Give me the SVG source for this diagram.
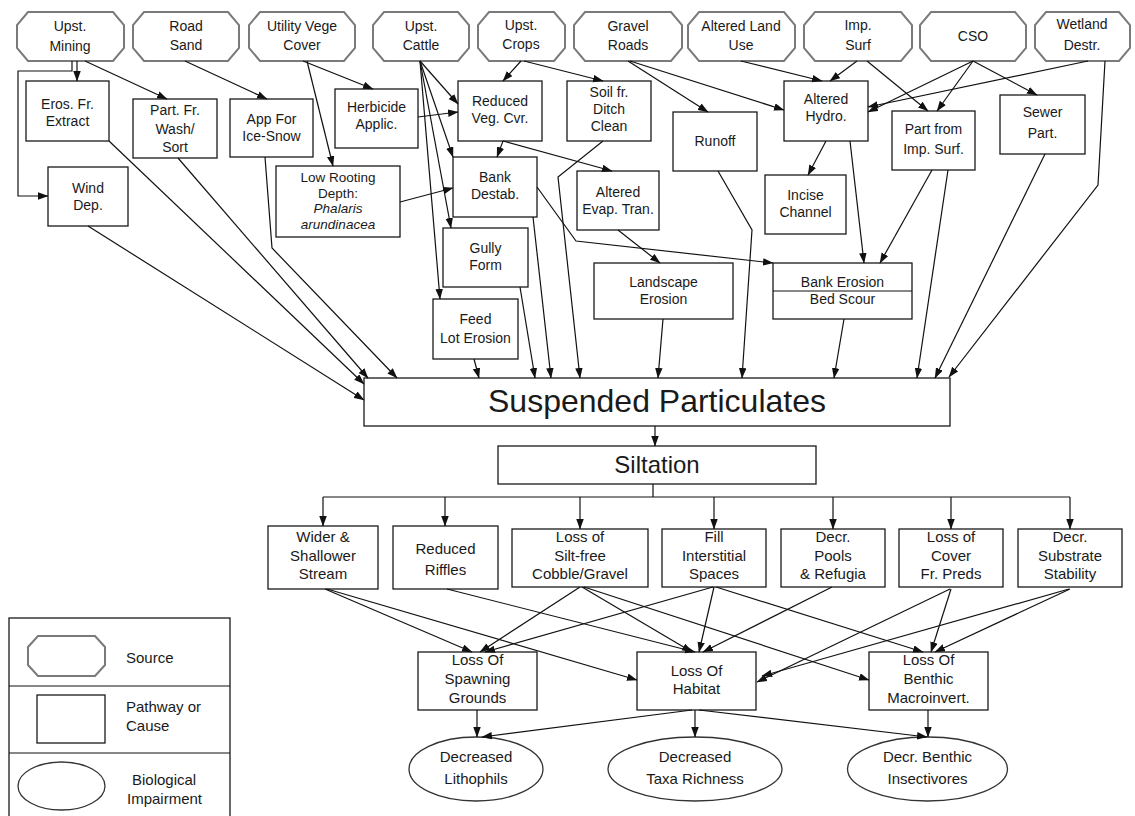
<svg xmlns="http://www.w3.org/2000/svg" width="1135" height="816" viewBox="0 0 1135 816">
<defs>
<marker id="ah" markerWidth="11" markerHeight="8" refX="10" refY="3.75" orient="auto" markerUnits="userSpaceOnUse">
<path d="M0,0 L10.5,3.75 L0,7.5 z" fill="#111"/>
</marker>
<style>
.src{fill:#fff;stroke:#7a7a7a;stroke-width:2}
.box{fill:#fff;stroke:#1a1a1a;stroke-width:1.3}
.ell{fill:#fff;stroke:#333;stroke-width:1.3}
.t{font-family:"Liberation Sans",Arial,sans-serif;font-size:14px;fill:#1a1a1a;text-anchor:middle}
.t15{font-size:15px}
.tlr{font-size:13.5px}
.it{font-style:italic}
.lg{font-family:"Liberation Sans",Arial,sans-serif;font-size:15px;fill:#1a1a1a}
.c{fill:none;stroke:#111;stroke-width:1.2;marker-end:url(#ah)}
.cn{fill:none;stroke:#111;stroke-width:1.2}
</style>
</defs>
<rect width="1135" height="816" fill="#fff"/>

<!-- Sources -->
<g id="src-mining"><polygon class="src" points="28,12 113,12 124,25 124,48 113,61 28,61 17,48 17,25"/><text class="t" x="70" y="31">Upst.</text><text class="t" x="70" y="51">Mining</text></g>
<g id="src-roadsand"><polygon class="src" points="144,12 228,12 239,25 239,48 228,61 144,61 133,48 133,25"/><text class="t" x="186" y="31">Road</text><text class="t" x="186" y="50">Sand</text></g>
<g id="src-utility"><polygon class="src" points="260,12 344,12 355,25 355,48 344,61 260,61 249,48 249,25"/><text class="t" x="302" y="31">Utility Vege</text><text class="t" x="302" y="50">Cover</text></g>
<g id="src-cattle"><polygon class="src" points="384,12 458,12 469,25 469,48 458,61 384,61 373,48 373,25"/><text class="t" x="421" y="31">Upst.</text><text class="t" x="421" y="50">Cattle</text></g>
<g id="src-crops"><polygon class="src" points="489,12 554,12 565,25 565,48 554,61 489,61 478,48 478,25"/><text class="t" x="521" y="30">Upst.</text><text class="t" x="521" y="49">Crops</text></g>
<g id="src-gravel"><polygon class="src" points="585,12 671,12 682,25 682,48 671,61 585,61 574,48 574,25"/><text class="t" x="628" y="31">Gravel</text><text class="t" x="628" y="50">Roads</text></g>
<g id="src-landuse"><polygon class="src" points="699,12 784,12 795,25 795,48 784,61 699,61 688,48 688,25"/><text class="t" x="741" y="31">Altered Land</text><text class="t" x="741" y="50">Use</text></g>
<g id="src-impsurf"><polygon class="src" points="815,12 901,12 912,25 912,48 901,61 815,61 804,48 804,25"/><text class="t" x="858" y="30">Imp.</text><text class="t" x="858" y="50">Surf</text></g>
<g id="src-cso"><polygon class="src" points="931,12 1015,12 1026,25 1026,48 1015,61 931,61 920,48 920,25"/><text class="t" x="973" y="41">CSO</text></g>
<g id="src-wetland"><polygon class="src" points="1046,12 1119,12 1130,25 1130,48 1119,61 1046,61 1035,48 1035,25"/><text class="t" x="1082" y="29">Wetland</text><text class="t" x="1082" y="50">Destr.</text></g>

<!-- Pathways -->
<g id="n-eros"><rect class="box" x="26" y="81" width="83" height="60"/><text class="t" x="67.5" y="109">Eros. Fr.</text><text class="t" x="67.5" y="126">Extract</text></g>
<g id="n-wash"><rect class="box" x="133" y="99" width="84" height="59"/><text class="t" x="175" y="115">Part. Fr.</text><text class="t" x="175" y="134">Wash/</text><text class="t" x="175" y="152">Sort</text></g>
<g id="n-ice"><rect class="box" x="230" y="99" width="83" height="58"/><text class="t" x="271.5" y="124">App For</text><text class="t" x="271.5" y="141">Ice-Snow</text></g>
<g id="n-herb"><rect class="box" x="335" y="89" width="83" height="59"/><text class="t" x="376.5" y="112">Herbicide</text><text class="t" x="376.5" y="129">Applic.</text></g>
<g id="n-wind"><rect class="box" x="48" y="167" width="80" height="59"/><text class="t" x="88" y="193">Wind</text><text class="t" x="88" y="210">Dep.</text></g>
<g id="n-lowroot"><rect class="box" x="276" y="166" width="124" height="71"/><text class="t tlr" x="338" y="182">Low Rooting</text><text class="t tlr" x="338" y="197.5">Depth:</text><text class="t tlr it" x="338" y="213">Phalaris</text><text class="t tlr it" x="338" y="228.5">arundinacea</text></g>
<g id="n-redveg"><rect class="box" x="458" y="81" width="84" height="60"/><text class="t" x="500" y="106">Reduced</text><text class="t" x="500" y="123">Veg. Cvr.</text></g>
<g id="n-ditch"><rect class="box" x="567" y="81" width="84" height="60"/><text class="t" x="609" y="97">Soil fr.</text><text class="t" x="609" y="114">Ditch</text><text class="t" x="609" y="131">Clean</text></g>
<g id="n-runoff"><rect class="box" x="673" y="112" width="84" height="59"/><text class="t" x="715" y="146">Runoff</text></g>
<g id="n-bankdestab"><rect class="box" x="453" y="157" width="84" height="60"/><text class="t" x="495" y="182">Bank</text><text class="t" x="495" y="199">Destab.</text></g>
<g id="n-evap"><rect class="box" x="577" y="171" width="82" height="59"/><text class="t" x="618" y="197">Altered</text><text class="t" x="618" y="214">Evap. Tran.</text></g>
<g id="n-hydro"><rect class="box" x="784" y="81" width="84" height="60"/><text class="t" x="826" y="104">Altered</text><text class="t" x="826" y="121">Hydro.</text></g>
<g id="n-partimp"><rect class="box" x="892" y="111" width="83" height="59"/><text class="t" x="933.5" y="134">Part from</text><text class="t" x="933.5" y="154">Imp. Surf.</text></g>
<g id="n-sewer"><rect class="box" x="1000" y="95" width="85" height="59"/><text class="t" x="1042.5" y="117">Sewer</text><text class="t" x="1042.5" y="138">Part.</text></g>
<g id="n-incise"><rect class="box" x="765" y="175" width="81" height="59"/><text class="t" x="805.5" y="200">Incise</text><text class="t" x="805.5" y="217">Channel</text></g>
<g id="n-gully"><rect class="box" x="443" y="228" width="85" height="59"/><text class="t" x="485.5" y="253">Gully</text><text class="t" x="485.5" y="270">Form</text></g>
<g id="n-feedlot"><rect class="box" x="433" y="299" width="85" height="60"/><text class="t" x="475.5" y="324">Feed</text><text class="t" x="475.5" y="343">Lot Erosion</text></g>
<g id="n-landscape"><rect class="box" x="594" y="263" width="139" height="56"/><text class="t" x="663.5" y="287">Landscape</text><text class="t" x="663.5" y="304">Erosion</text></g>
<g id="n-bankeros"><rect class="box" x="773" y="263" width="139" height="56"/><line class="cn" x1="773" y1="291" x2="912" y2="291"/><text class="t" x="842.5" y="287">Bank Erosion</text><text class="t" x="842.5" y="304">Bed Scour</text></g>

<g id="n-susp"><rect class="box" x="364" y="378" width="586" height="48"/><text class="t" x="657" y="412" style="font-size:32px">Suspended Particulates</text></g>
<g id="n-silt"><rect class="box" x="498" y="446" width="318" height="38"/><text class="t" x="657" y="473" style="font-size:24px">Siltation</text></g>

<!-- Effects -->
<g id="n-wider"><rect class="box" x="268" y="526" width="110" height="63"/><text class="t t15" x="323" y="542">Wider &amp;</text><text class="t t15" x="323" y="561">Shallower</text><text class="t t15" x="323" y="579">Stream</text></g>
<g id="n-riffles"><rect class="box" x="393" y="526" width="105" height="63"/><text class="t t15" x="445.5" y="554">Reduced</text><text class="t t15" x="445.5" y="575">Riffles</text></g>
<g id="n-cobble"><rect class="box" x="512" y="529" width="136" height="58"/><text class="t t15" x="580" y="542">Loss of</text><text class="t t15" x="580" y="561">Silt-free</text><text class="t t15" x="580" y="579">Cobble/Gravel</text></g>
<g id="n-fill"><rect class="box" x="662" y="529" width="104" height="58"/><text class="t t15" x="714" y="542">Fill</text><text class="t t15" x="714" y="561">Interstitial</text><text class="t t15" x="714" y="579">Spaces</text></g>
<g id="n-pools"><rect class="box" x="781" y="529" width="104" height="58"/><text class="t t15" x="833" y="542">Decr.</text><text class="t t15" x="833" y="561">Pools</text><text class="t t15" x="833" y="579">&amp; Refugia</text></g>
<g id="n-cover"><rect class="box" x="899" y="529" width="104" height="58"/><text class="t t15" x="951" y="542">Loss of</text><text class="t t15" x="951" y="561">Cover</text><text class="t t15" x="951" y="579">Fr. Preds</text></g>
<g id="n-substrate"><rect class="box" x="1018" y="529" width="104" height="58"/><text class="t t15" x="1070" y="542">Decr.</text><text class="t t15" x="1070" y="561">Substrate</text><text class="t t15" x="1070" y="579">Stability</text></g>

<g id="n-spawn"><rect class="box" x="418" y="652" width="119" height="58"/><text class="t t15" x="477.5" y="665">Loss Of</text><text class="t t15" x="477.5" y="684">Spawning</text><text class="t t15" x="477.5" y="703">Grounds</text></g>
<g id="n-habitat"><rect class="box" x="637" y="652" width="119" height="58"/><text class="t t15" x="696.5" y="676">Loss Of</text><text class="t t15" x="696.5" y="694">Habitat</text></g>
<g id="n-benthic"><rect class="box" x="869" y="652" width="119" height="58"/><text class="t t15" x="928.5" y="665">Loss Of</text><text class="t t15" x="928.5" y="684">Benthic</text><text class="t t15" x="928.5" y="703">Macroinvert.</text></g>

<g id="n-litho"><ellipse class="ell" cx="476" cy="769" rx="67" ry="32"/><text class="t t15" x="476" y="762">Decreased</text><text class="t t15" x="476" y="784">Lithophils</text></g>
<g id="n-taxa"><ellipse class="ell" cx="695" cy="769" rx="87" ry="32"/><text class="t t15" x="695" y="762">Decreased</text><text class="t t15" x="695" y="784">Taxa Richness</text></g>
<g id="n-insect"><ellipse class="ell" cx="927.5" cy="769" rx="80" ry="32"/><text class="t t15" x="927.5" y="762">Decr. Benthic</text><text class="t t15" x="927.5" y="784">Insectivores</text></g>

<!-- Legend -->
<g id="legend">
<rect class="box" x="9" y="618" width="221" height="210"/>
<line class="cn" x1="9" y1="686" x2="230" y2="686"/>
<line class="cn" x1="9" y1="753" x2="230" y2="753"/>
<polygon class="src" points="38,636 95,636 105,647 105,665 95,676 38,676 28,665 28,647"/>
<text class="lg" x="126" y="663">Source</text>
<rect class="box" x="37" y="695" width="68" height="48"/>
<text class="lg" x="126" y="712">Pathway or</text>
<text class="lg" x="126" y="731">Cause</text>
<ellipse class="ell" cx="61.5" cy="786" rx="43.5" ry="24"/>
<text class="lg" x="132" y="785">Biological</text>
<text class="lg" x="127" y="804">Impairment</text>
</g>

<!-- Connectors -->
<g id="connectors">
<path class="c" d="M77,61 V81"/>
<path class="c" d="M72,61 V71 H18 V196 H48"/>
<path class="c" d="M85,61 L167,99"/>
<path class="c" d="M185,61 L267,99"/>
<path class="c" d="M303,61 L373,89"/>
<path class="c" d="M307,61 L333,166"/>
<path class="c" d="M420,61 L458,104"/>
<path class="c" d="M420,61 L453,157"/>
<path class="c" d="M420,61 L451,228"/>
<path class="c" d="M420,61 L440,299"/>
<path class="c" d="M418,117 L458,112"/>
<path class="c" d="M521,61 L503,81"/>
<path class="c" d="M524,61 L603,81"/>
<path class="c" d="M503,141 L497,157"/>
<path class="c" d="M503,141 L612,171"/>
<path class="c" d="M603,141 L558,177 L580,378"/>
<path class="c" d="M537,187 L576,241 L773,263"/>
<path class="c" d="M618,230 L660,263"/>
<path class="c" d="M718,171 L752,230 L742,378"/>
<path class="c" d="M628,61 L708,112"/>
<path class="c" d="M630,61 L784,110"/>
<path class="c" d="M741,61 L822,81"/>
<path class="c" d="M857,61 L830,81"/>
<path class="c" d="M867,61 L928,111"/>
<path class="c" d="M973,61 L937,111"/>
<path class="c" d="M973,61 L868,112"/>
<path class="c" d="M973,61 L1037,95"/>
<path class="c" d="M1088,61 L868,107"/>
<path class="c" d="M1105,61 L1098,185 L949,377"/>
<path class="c" d="M1045,154 L935,378"/>
<path class="c" d="M948,170 L917,378"/>
<path class="c" d="M932,170 L880,263"/>
<path class="c" d="M850,141 L864,263"/>
<path class="c" d="M826,141 L808,175"/>
<path class="c" d="M844,319 L834,378"/>
<path class="c" d="M663,319 L658,378"/>
<path class="c" d="M474,359 L479,378"/>
<path class="c" d="M520,287 L535,378"/>
<path class="c" d="M533,217 L551,378"/>
<path class="c" d="M400,202 L453,188"/>
<path class="c" d="M88,226 L364,400"/>
<path class="c" d="M109,141 L364,384"/>
<path class="c" d="M178,158 L368,378"/>
<path class="c" d="M265,157 L272,248 L397,378"/>
<path class="c" d="M655,426 V446"/>
<path class="cn" d="M653,484 V497 M323,497 H1070"/>
<path class="c" d="M323,497 V526"/>
<path class="c" d="M445,497 V526"/>
<path class="c" d="M580,497 V529"/>
<path class="c" d="M714,497 V529"/>
<path class="c" d="M833,497 V529"/>
<path class="c" d="M951,497 V529"/>
<path class="c" d="M1070,497 V529"/>
<path class="c" d="M325,589 L472,652"/>
<path class="c" d="M327,589 L637,680"/>
<path class="c" d="M447,589 L695,652"/>
<path class="c" d="M580,587 L480,652"/>
<path class="c" d="M582,587 L692,652"/>
<path class="c" d="M584,587 L869,680"/>
<path class="c" d="M713,587 L485,652"/>
<path class="c" d="M714,587 L699,652"/>
<path class="c" d="M716,587 L923,652"/>
<path class="c" d="M832,587 L703,652"/>
<path class="c" d="M950,589 L757,682"/>
<path class="c" d="M951,589 L931,652"/>
<path class="c" d="M1069,589 L762,676"/>
<path class="c" d="M1070,589 L935,652"/>
<path class="c" d="M477,710 V737"/>
<path class="c" d="M692,710 L482,737"/>
<path class="c" d="M695,710 V737"/>
<path class="c" d="M699,710 L927,737"/>
<path class="c" d="M928,710 V737"/>
</g>
</svg>
